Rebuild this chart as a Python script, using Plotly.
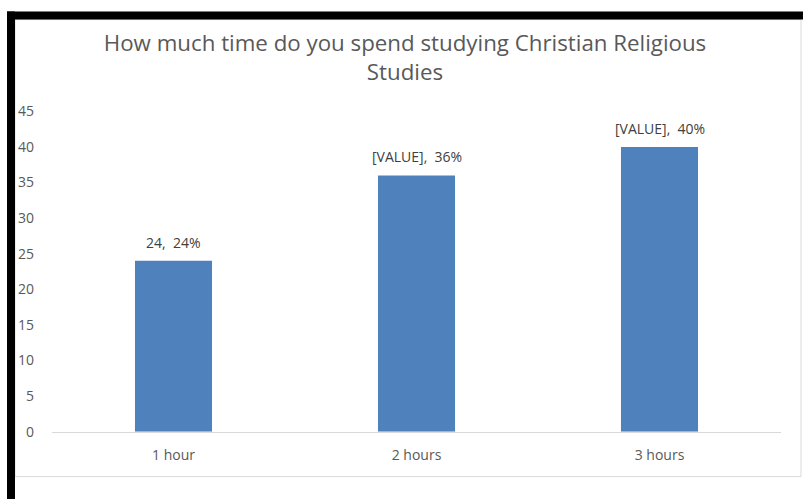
import plotly.graph_objects as go

categories = ["1 hour", "2 hours", "3 hours"]
values = [24, 36, 40]
labels = ["24,  24%", "[VALUE],  36%", "[VALUE],  40%"]
y_ticks = [0, 5, 10, 15, 20, 25, 30, 35, 40, 45]

W, H = 803, 499
# the capture maps page y to picture y as 0.964*y + 8.4; place things by their picture position
S, A = 0.964, 8.4
def px(x):
    return x / W
def py(y):
    return (H - (y - A) / S) / H

fig = go.Figure(go.Bar(
    x=categories, y=values,
    marker=dict(color="#4F81BD", line=dict(width=0)),
    hoverinfo="skip",
))

for c, v, t in zip(categories, values, labels):
    fig.add_annotation(x=c, y=v, text=t, showarrow=False, yanchor="bottom", yshift=7,
                       font=dict(color="#404040", size=14, family="Open Sans"))

shapes = [
    dict(type="rect", xref="paper", yref="paper", x0=px(15), x1=px(801), y0=py(476), y1=py(18),
         line=dict(color="#d9d9d9", width=1), fillcolor="rgba(0,0,0,0)", layer="below"),
    dict(type="rect", xref="paper", yref="paper", x0=px(7), x1=px(803), y0=py(18), y1=py(10),
         line=dict(width=0), fillcolor="black"),
    dict(type="rect", xref="paper", yref="paper", x0=px(7), x1=px(15), y0=-0.05, y1=py(10),
         line=dict(width=0), fillcolor="black"),
]

fig.update_layout(
    width=W, height=H,
    margin=dict(l=0, r=0, t=0, b=0),
    paper_bgcolor="white", plot_bgcolor="white",
    showlegend=False,
    bargap=0.683,
    shapes=shapes,
    title=dict(text="How much time do you spend studying Christian Religious<br>Studies",
               x=405 / W, xanchor="center", y=py(57.5), yanchor="middle",
               font=dict(family="Open Sans", size=22.3, color="#595959")),
    xaxis=dict(domain=[px(52), px(781)], showline=True, linecolor="#d9d9d9", linewidth=1,
               tickfont=dict(family="Open Sans", size=14, color="#595959"),
               ticks="", showgrid=False, ticklabelstandoff=11, fixedrange=True),
    yaxis=dict(domain=[py(431), py(110)], range=[0, 45], tickvals=y_ticks,
               showgrid=False, zeroline=False, showline=False, ticks="",
               tickfont=dict(family="Open Sans", size=14, color="#595959"),
               ticklabelstandoff=17, fixedrange=True),
)

post = ("document.body.style.margin='0';"
        "var d=document.getElementById('{plot_id}');"
        "d.style.position='fixed';d.style.left='0px';d.style.top='0px';")

fig.write_html("out.html", config={"displayModeBar": False}, post_script=post)
